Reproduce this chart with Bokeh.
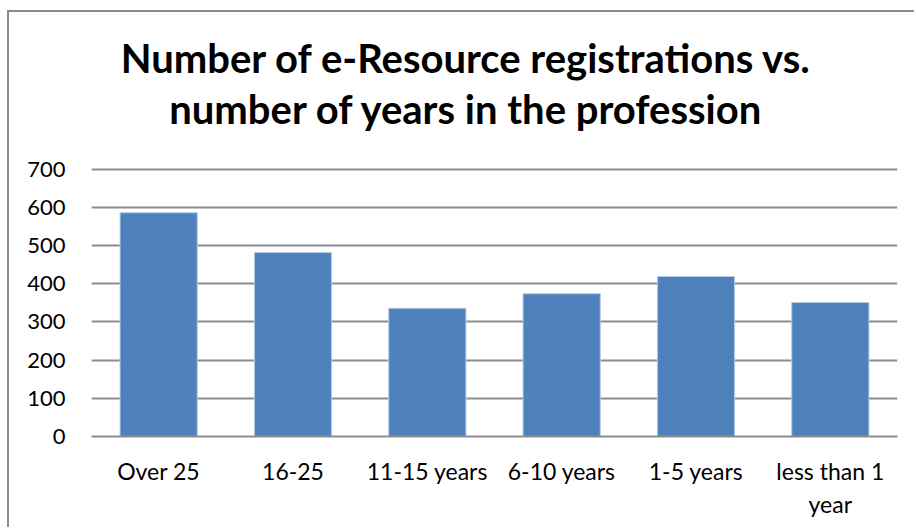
from bokeh.plotting import figure
from bokeh.models import Range1d, FixedTicker, Label
from bokeh.embed import file_html
from bokeh.resources import INLINE

categories = ["Over 25", "16-25", "11-15 years", "6-10 years", "1-5 years", "less than 1\nyear"]
registrations = [586, 482, 336, 374, 419, 351]
y_ticks = [0, 100, 200, 300, 400, 500, 600, 700]
title_line1 = "Number of e-Resource registrations vs."
title_line2 = "number of years in the profession"

FONT = "Lato"

p = figure(x_range=categories, y_range=Range1d(0, 1110.4), width=907, height=517,
           output_backend="svg", toolbar_location=None,
           min_border_left=82, min_border_right=19, min_border_top=0, min_border_bottom=93)
p.title = None
p.outline_line_color = None
p.background_fill_color = "white"
p.border_fill_color = "white"
p.styles = {"margin-left": "7px", "margin-top": "10px",
            "border-left": "2px solid #8c8c8c", "border-top": "2px solid #8c8c8c"}

p.vbar(x=categories, top=registrations, width=0.575, fill_color="#4f81bd",
       line_color="#b9cde5", line_width=1)

# axes
p.yaxis.ticker = FixedTicker(ticks=y_ticks)
p.yaxis.axis_line_color = None
p.yaxis.major_tick_line_color = None
p.yaxis.minor_tick_line_color = None
p.yaxis.major_label_standoff = 20
p.yaxis.major_label_text_font = FONT
p.yaxis.major_label_text_font_size = "22px"
p.yaxis.major_label_text_color = "black"

p.xaxis.axis_line_color = "#8c8c8c"
p.xaxis.axis_line_width = 2
p.xaxis.major_tick_line_color = None
p.xaxis.minor_tick_line_color = None
p.xaxis.major_label_standoff = 14
p.xaxis.major_label_text_font = FONT
p.xaxis.major_label_text_font_size = "23px"
p.xaxis.major_label_text_color = "black"

p.xgrid.grid_line_color = None
p.ygrid.ticker = FixedTicker(ticks=y_ticks[1:])
p.ygrid.grid_line_color = "#8c8c8c"
p.ygrid.grid_line_width = 2

# title (inside the tall frame, above the value area)
for txt, yy in [(title_line1, 991), (title_line2, 857)]:
    p.add_layout(Label(x=2.792, y=yy, text=txt,
                       text_align="center", text_baseline="alphabetic",
                       text_font=FONT, text_font_style="bold", text_font_size="40px",
                       text_color="black"))

open("out.html", "w").write(file_html(p, INLINE))
